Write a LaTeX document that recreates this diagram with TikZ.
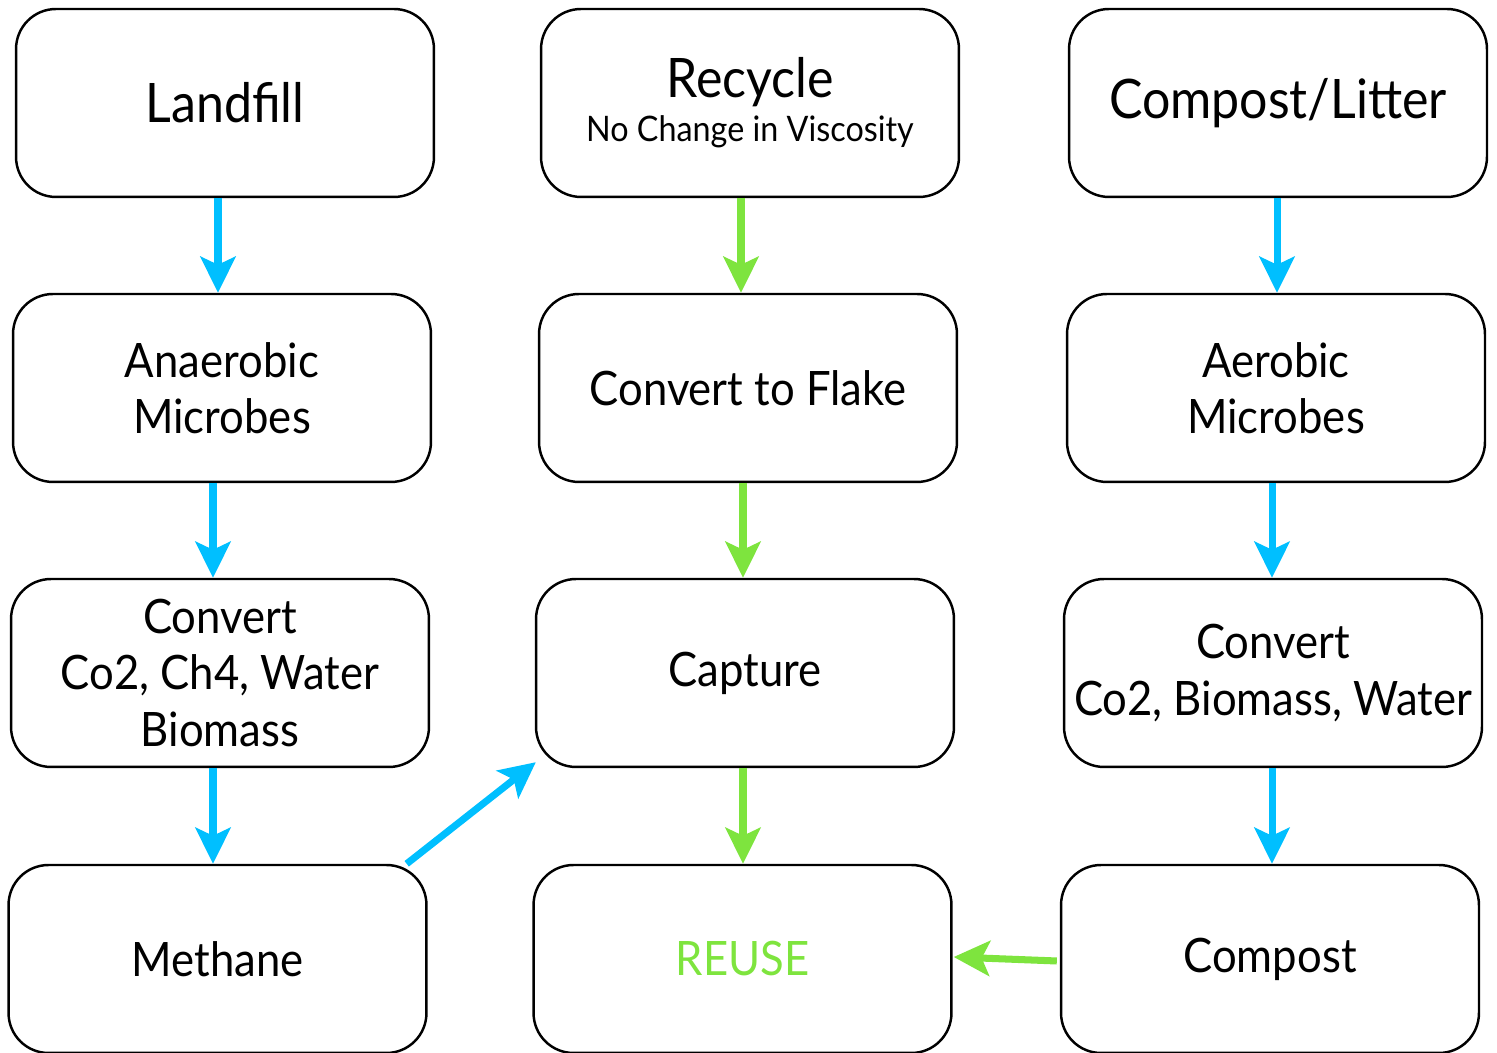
\documentclass[tikz,border=0pt]{standalone}
\usepackage{fontspec}
\setmainfont{Lato}[FakeStretch=0.92]
\usetikzlibrary{arrows.meta,calc,positioning}
\definecolor{flowblue}{RGB}{0,191,255}
\definecolor{flowgreen}{RGB}{126,228,62}
\tikzset{
  stage/.style={draw=black,line width=1.4pt,rounded corners=0.8cm,
    minimum width=8.36cm,minimum height=3.76cm,align=center,
    font=\fontsize{27}{32}\selectfont,inner sep=0pt},
  flow/.style={line width=4pt,-{Stealth[length=0.72cm,width=0.7cm,inset=0.16cm]}},
  blueflow/.style={flow,flowblue},
  greenflow/.style={flow,flowgreen}
}
\begin{document}
\begin{tikzpicture}[x=0.02cm,y=0.02cm]
      \useasboundingbox (0,0) rectangle (1497,1053);
      % landfill column
      \node[stage,font=\fontsize{31}{37}\selectfont] (landfill) at (225,950) {Landfill};
      \node[stage] (anaerobic) at (222,665) {Anaerobic\\Microbes};
      \node[stage] (convertA) at (220,380) {Convert\\Co2, Ch4, Water\\Biomass};
      \node[stage] (methane) at (217.5,94) {Methane};
      % recycle column
      \node[stage] (recycle) at (750,950) {{\fontsize{31}{37}\selectfont Recycle}\\[-7pt]{\fontsize{20}{25}\selectfont No Change in Viscosity}};
      \node[stage] (flake) at (748,665) {Convert to Flake};
      \node[stage] (capture) at (745,380) {Capture};
      \node[stage,text=flowgreen] (reuse) at (742.5,94) {REUSE};
      % compost column
      \node[stage,font=\fontsize{31}{37}\selectfont] (litter) at (1278,950) {Compost/Litter};
      \node[stage] (aerobic) at (1276,665) {Aerobic\\Microbes};
      \node[stage] (convertB) at (1273,380) {Convert\\Co2, Biomass, Water};
      \node[stage] (compost) at (1270,94) {Compost};
      % arrows
      \draw[blueflow] ($(landfill.south)+(-7,0)$) -- ($(landfill.south |- anaerobic.north)+(-7,0)$);
      \draw[blueflow] ($(anaerobic.south)+(-9,0)$) -- ($(anaerobic.south |- convertA.north)+(-9,0)$);
      \draw[blueflow] ($(convertA.south)+(-7,0)$) -- ($(convertA.south |- methane.north)+(-7,0)$);
      \draw[greenflow] ($(recycle.south)+(-9,0)$) -- ($(recycle.south |- flake.north)+(-9,0)$);
      \draw[greenflow] ($(flake.south)+(-5,0)$) -- ($(flake.south |- capture.north)+(-5,0)$);
      \draw[greenflow] ($(capture.south)+(-2,0)$) -- ($(capture.south |- reuse.north)+(-2,0)$);
      \draw[blueflow] ($(litter.south)+(-1,0)$) -- ($(litter.south |- aerobic.north)+(-1,0)$);
      \draw[blueflow] ($(aerobic.south)+(-4,0)$) -- ($(aerobic.south |- convertB.north)+(-4,0)$);
      \draw[blueflow] ($(convertB.south)+(-1,0)$) -- ($(convertB.south |- compost.north)+(-1,0)$);
      \draw[blueflow] ($(methane.north east)+(-21,0)$) -- ($(capture.south west)+(1,6)$);
      \draw[greenflow] ($(compost.west)+(-3,-2)$) -- ($(reuse.east)+(1,2)$);
\end{tikzpicture}
\end{document}
